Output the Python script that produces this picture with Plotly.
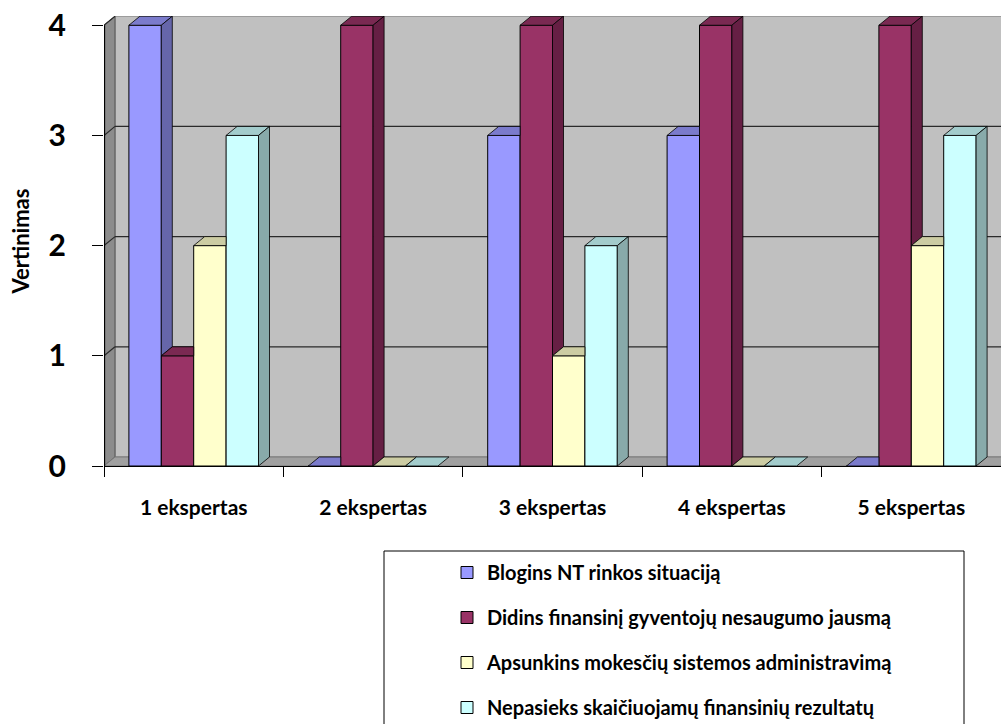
import plotly.graph_objects as go

# ---------------- data ----------------
categories = ["1 ekspertas", "2 ekspertas", "3 ekspertas", "4 ekspertas", "5 ekspertas"]
series_names = [
    "Blogins NT rinkos situaciją",
    "Didins finansinį gyventojų nesaugumo jausmą",
    "Apsunkins mokesčių sistemos administravimą",
    "Nepasieks skaičiuojamų finansinių rezultatų",
]
blogins = [4, 0, 3, 3, 0]
didins = [1, 4, 4, 4, 4]
apsunkins = [2, 0, 1, 0, 2]
nepasieks = [3, 0, 2, 0, 3]
y_ticks = [0, 1, 2, 3, 4]
y_title = "Vertinimas"

series_values = [blogins, didins, apsunkins, nepasieks]

# ---------------- styles ----------------
front_colors = ["#9999FF", "#993366", "#FFFFCC", "#CCFFFF"]
top_colors = ["#7B7BCC", "#7A2952", "#CCCCA3", "#A3CCCC"]
side_colors = ["#6666AA", "#661F44", "#AAAA88", "#88AAAA"]

PX_X = 897 / 5.0          # pixels per x unit
PX_Y = 110.0              # pixels per y unit
BW = 32.4 / PX_X          # bar width in data units
GW = 4 * BW
DX = 11 / PX_X            # depth offsets
DY = 9 / PX_Y
XMIN, XMAX = -0.5, 4.5
YMAX = 4 + DY + 0.002

FONT = "Lato"

fig = go.Figure()

n = len(categories)
xs = list(range(n))

# front faces (real bars)
for i, (name, vals) in enumerate(zip(series_names, series_values)):
    fig.add_trace(go.Bar(
        x=xs, y=vals, name=name,
        width=BW, offset=-GW / 2 + i * BW,
        marker=dict(color=front_colors[i], line=dict(color="black", width=1)),
        legendgroup=f"g{i}", hoverinfo="skip",
    ))

# 3D top and side faces, derived from the values
for c in range(n):
    for i in range(4):
        v = series_values[i][c]
        vn = series_values[i + 1][c] if i < 3 else 0
        x0 = c - GW / 2 + i * BW
        x1 = x0 + BW
        # top face
        if i < 3 and vn > v:
            tx = [x0, x1, x1, x0 + DX, x0]
            ty = [v, v, v + DY, v + DY, v]
        else:
            tx = [x0, x1, x1 + DX, x0 + DX, x0]
            ty = [v, v, v + DY, v + DY, v]
        fig.add_trace(go.Scatter(
            x=tx, y=ty, mode="lines", fill="toself", fillcolor=top_colors[i],
            line=dict(color="black", width=0.8), showlegend=False, hoverinfo="skip",
        ))
        # side face (visible part only)
        if v > vn:
            sx = [x1, x1, x1 + DX, x1 + DX, x1]
            sy = [vn, v, v + DY, vn + DY, vn]
            fig.add_trace(go.Scatter(
                x=sx, y=sy, mode="lines", fill="toself", fillcolor=side_colors[i],
                line=dict(color="black", width=0.8), showlegend=False, hoverinfo="skip",
            ))

# walls, floor, gridlines
shapes = []
shapes.append(dict(type="rect", xref="x", yref="y", x0=XMIN + DX, x1=XMAX + 0.2,
                   y0=DY, y1=4 + DY, fillcolor="#C0C0C0",
                   line=dict(color="#888888", width=1), layer="below"))
shapes.append(dict(type="path", xref="x", yref="y",
                   path=f"M {XMIN},0 L {XMIN},4 L {XMIN + DX},{4 + DY} L {XMIN + DX},{DY} Z",
                   fillcolor="#8C8C8C", line=dict(color="#555555", width=1), layer="below"))
shapes.append(dict(type="path", xref="x", yref="y",
                   path=f"M {XMIN},0 L {XMAX + 0.2},0 L {XMAX + 0.2},{DY} L {XMIN + DX},{DY} Z",
                   fillcolor="#A0A0A0", line=dict(color="#777777", width=1), layer="below"))
for k in y_ticks[1:4]:
    shapes.append(dict(type="line", xref="x", yref="y", x0=XMIN + DX, x1=XMAX + 0.2,
                       y0=k + DY, y1=k + DY, line=dict(color="#2A2A2A", width=1.3), layer="below"))
for k in y_ticks[1:]:
    shapes.append(dict(type="line", xref="x", yref="y", x0=XMIN, x1=XMIN + DX,
                       y0=k, y1=k + DY, line=dict(color="#2A2A2A", width=1.2), layer="below"))
# y axis line (front left edge of the wall)
shapes.append(dict(type="line", xref="x", yref="y", x0=XMIN + 0.003, x1=XMIN + 0.003,
                   y0=0, y1=4, line=dict(color="black", width=1.2), layer="above"))

# legend frame
shapes.append(dict(type="rect", xref="paper", yref="paper",
                   x0=(384 - 104) / 897, x1=(964 - 104) / 897,
                   y0=(466 - 551) / 450, y1=(466 - 760) / 450,
                   line=dict(color="black", width=1), fillcolor="rgba(0,0,0,0)"))

fig.update_layout(
    width=1001, height=724,
    margin=dict(l=104, r=0, t=16, b=258, autoexpand=False),
    paper_bgcolor="white", plot_bgcolor="white",
    barmode="overlay",
    shapes=shapes,
    showlegend=True,
    legend=dict(
        x=(447 - 104) / 897, xanchor="left",
        y=(466 - 553) / 450, yanchor="top",
        bgcolor="rgba(0,0,0,0)", borderwidth=0,
        font=dict(family=FONT, size=20, color="black", weight="bold"),
        traceorder="grouped", tracegroupgap=16,
        itemclick=False, itemdoubleclick=False,
    ),
    font=dict(family=FONT, color="black"),
)

fig.update_xaxes(
    range=[XMIN, XMAX], showgrid=False, zeroline=False, automargin=False,
    tickmode="array", tickvals=xs, ticktext=categories, ticks="",
    tickfont=dict(family=FONT, size=21, color="black", weight="bold"),
    ticklabelstandoff=23,
    minor=dict(tickmode="array", tickvals=[c - 0.5 for c in range(n + 1)],
               ticks="outside", ticklen=10, tickcolor="black", tickwidth=1),
    showline=True, linecolor="black", linewidth=1,
)
fig.update_yaxes(
    range=[0, YMAX], showgrid=False, zeroline=False, showline=False, automargin=False,
    tickmode="array", tickvals=y_ticks, ticks="outside", ticklen=11,
    tickcolor="black", tickwidth=1,
    tickfont=dict(family=FONT, size=30, color="black", weight="bold"),
    ticklabelstandoff=20,
    title=dict(text=y_title, font=dict(family=FONT, size=22, color="black", weight="bold"),
               standoff=12),
)

fig.write_html("out.html")
